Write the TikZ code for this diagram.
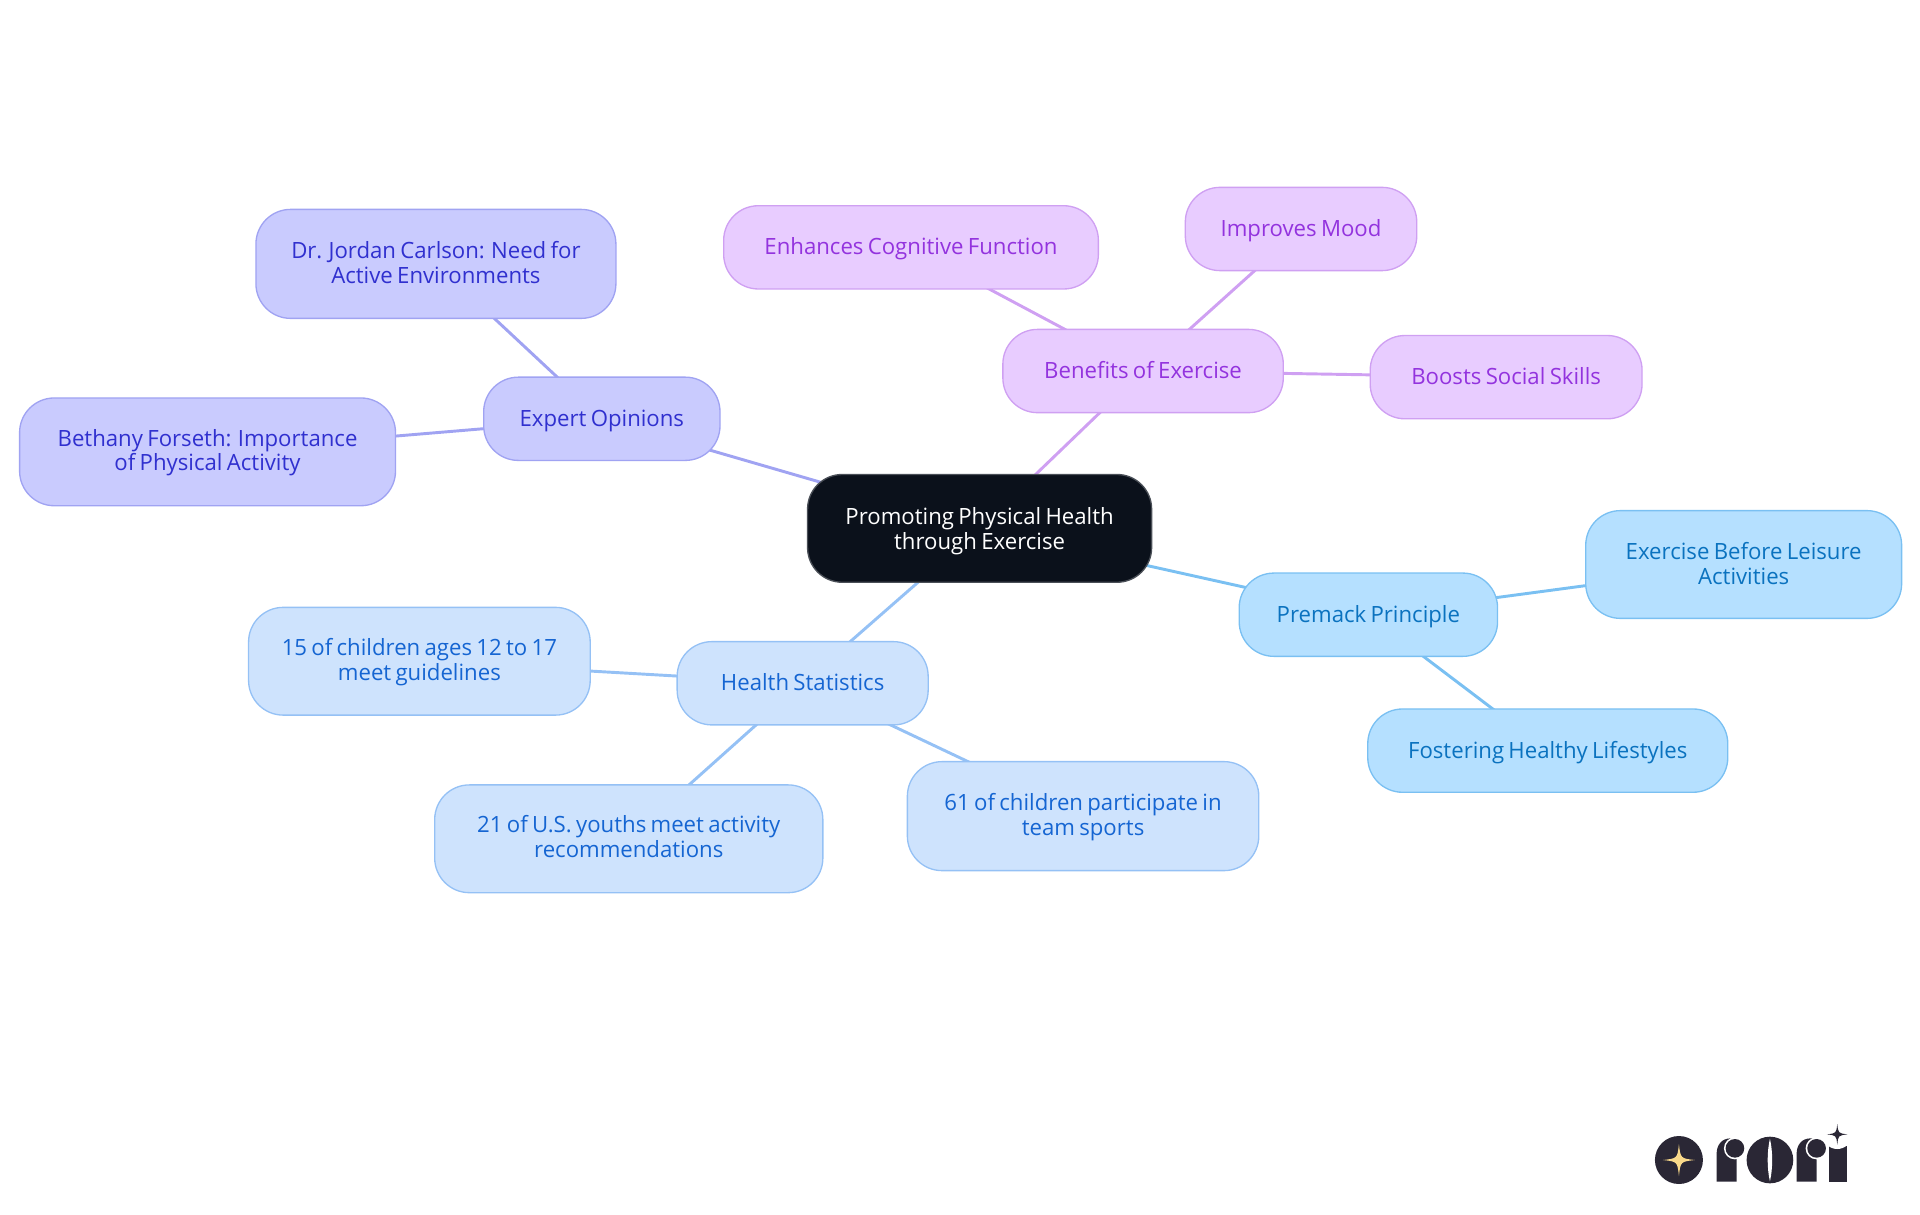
\documentclass[tikz,border=0pt]{standalone}
\usepackage{fontspec}
\setmainfont{Open Sans}[FakeStretch=0.99,WordSpace=0.75]
\usetikzlibrary{backgrounds}
\definecolor{rootfill}{HTML}{0B111B}
\definecolor{rootline}{HTML}{4A4F57}
\definecolor{expfill}{HTML}{C9CBFE}
\definecolor{expline}{HTML}{A0A3F2}
\definecolor{exptext}{HTML}{3030CF}
\definecolor{benfill}{HTML}{E8CCFF}
\definecolor{benline}{HTML}{CFA0F2}
\definecolor{bentext}{HTML}{9333DE}
\definecolor{prefill}{HTML}{B5E0FF}
\definecolor{preline}{HTML}{7AC0F2}
\definecolor{pretext}{HTML}{0A72BF}
\definecolor{heafill}{HTML}{CEE3FD}
\definecolor{healine}{HTML}{95C1F5}
\definecolor{heatext}{HTML}{1565D2}
\definecolor{logodark}{HTML}{2A2735}
\definecolor{logogold}{HTML}{F9D98A}
\newcommand{\logostar}[4]{\fill[#1,shift={(#2,#3)}] (0,-#4) .. controls (.1*#4,-.1*#4) .. (#4,0) .. controls (.1*#4,.1*#4) .. (0,#4) .. controls (-.1*#4,.1*#4) .. (-#4,0) .. controls (-.1*#4,-.1*#4) .. cycle;}
\newcommand{\dn}[2]{\raisebox{-#1pt}[0pt][0pt]{#2}}
\tikzset{
  mapbox/.style={rounded corners=26pt,line width=1pt,align=center,inner sep=0pt,font=\fontsize{16.8pt}{18.7pt}\selectfont,execute at begin node={\rule{0pt}{16.8pt}},execute at end node=\strut},
  sz/.style 2 args={minimum width=#1*0.9184pt,minimum height=#2*0.9184pt},
  rootbox/.style={mapbox,fill=rootfill,draw=rootline,text=white},
  expbox/.style={mapbox,fill=expfill,draw=expline,text=exptext},
  benbox/.style={mapbox,fill=benfill,draw=benline,text=bentext},
  prebox/.style={mapbox,fill=prefill,draw=preline,text=pretext},
  heabox/.style={mapbox,fill=heafill,draw=healine,text=heatext},
  link/.style={line width=2.2pt},
}
\begin{document}
\begin{tikzpicture}[x=0.9184pt,y=-0.9184pt]
\useasboundingbox (0,0) rectangle (1568,992.2);
\node[rootbox,sz={281}{88}] (root) at (800,431.5) {\dn{9.1}{Promoting Physical Health}\\\dn{9.1}{through Exercise}};
\node[expbox,sz={193}{68}] (exp) at (491.5,342) {Expert Opinions};
\node[expbox,sz={294}{89}] (dr) at (356,215.5) {\dn{8}{Dr. Jordan Carlson: Need for}\\\dn{8}{Active Environments}};
\node[expbox,sz={307}{88}] (bet) at (169.5,369) {\dn{7.8}{Bethany Forseth: Importance}\\\dn{7.8}{of Physical Activity}};
\node[benbox,sz={229}{68}] (ben) at (933.5,303) {Benefits of Exercise};
\node[benbox,sz={306}{68}] (enh) at (744,202) {Enhances Cognitive Function};
\node[benbox,sz={189}{68}] (imp) at (1062.5,187) {Improves Mood};
\node[benbox,sz={222}{68}] (boo) at (1230,308) {Boosts Social Skills};
\node[prebox,sz={211}{68}] (pre) at (1117.5,502) {Premack Principle};
\node[prebox,sz={258}{88}] (exb) at (1424,461) {\dn{8.2}{Exercise Before Leisure}\\\dn{8.2}{Activities}};
\node[prebox,sz={294}{68}] (fos) at (1264,613) {Fostering Healthy Lifestyles};
\node[heabox,sz={205}{68}] (hea) at (655.5,558) {Health Statistics};
\node[heabox,sz={279}{88}] (fif) at (342.5,540) {\dn{7.8}{15 of children ages 12 to 17}\\\dn{7.8}{meet guidelines}};
\node[heabox,sz={317}{88}] (twe) at (513.5,685) {\dn{7.8}{21 of U.S. youths meet activity}\\\dn{7.8}{recommendations}};
\node[heabox,sz={287}{89}] (six) at (884.5,666.5) {\dn{7.8}{61 of children participate in}\\\dn{7.8}{team sports}};
\begin{scope}[on background layer]
\draw[link,expline] (root.center) -- (exp.center);
\draw[link,expline] (exp.center) -- (dr.center);
\draw[link,expline] (exp.center) -- (bet.center);
\draw[link,benline] (root.center) -- (ben.center);
\draw[link,benline] (ben.center) -- (enh.center);
\draw[link,benline] (ben.center) -- (imp.center);
\draw[link,benline] (ben.center) -- (boo.center);
\draw[link,preline] (root.center) -- (pre.center);
\draw[link,preline] (pre.center) -- (exb.center);
\draw[link,preline] (pre.center) -- (fos.center);
\draw[link,healine] (root.center) -- (hea.center);
\draw[link,healine] (hea.center) -- (fif.center);
\draw[link,healine] (hea.center) -- (twe.center);
\draw[link,healine] (hea.center) -- (six.center);
\end{scope}
% logo, drawn in units of a third of a reference pixel
\begin{scope}[shift={(1306.6,882)},x=0.25pt,y=-0.25pt]
\fill[logodark] (237,240) circle (72);
\logostar{logogold}{237}{240}{48}
% first r
\fill[logodark] (350,305) -- (350,222) .. controls (350,195) and (365,175) .. (392,175) -- (410,175) -- (410,305) -- cycle;
\fill[white] (405,205) circle (33);
\fill[logodark] (405,205) circle (28);
% o
\fill[logodark] (510,240) circle (70);
\fill[white] (510,176) .. controls (519,215) and (519,265) .. (510,304) .. controls (501,265) and (501,215) .. cycle;
% second r
\fill[logodark] (590,305) -- (590,222) .. controls (590,195) and (605,175) .. (632,175) -- (650,175) -- (650,305) -- cycle;
\fill[white] (650,205) circle (33);
\fill[logodark] (650,205) circle (28);
% i
\fill[logodark] (687,305) -- (687,198) -- (740,198) -- (740,305) -- cycle;
\fill[white] (712,163) circle (44);
\logostar{logodark}{712}{163}{31}
\end{scope}
\end{tikzpicture}
\end{document}
